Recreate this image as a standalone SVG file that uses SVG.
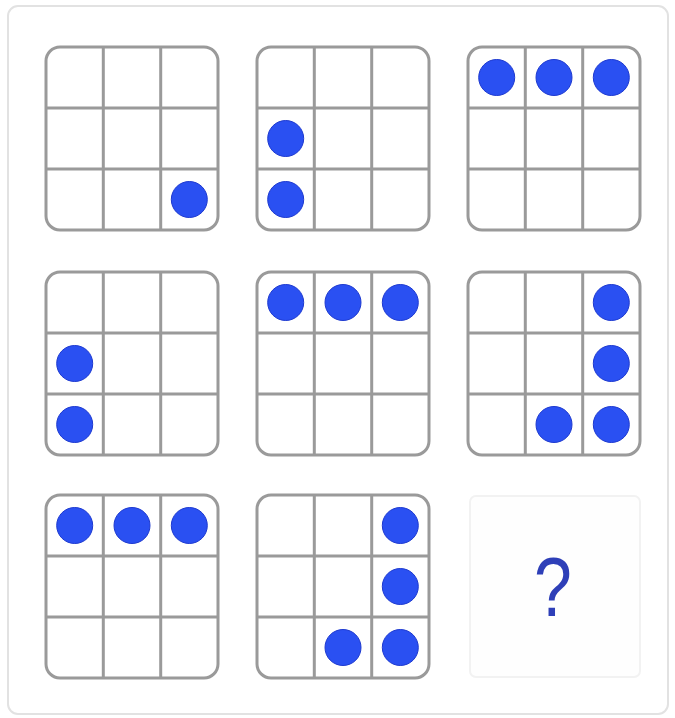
<svg xmlns="http://www.w3.org/2000/svg" width="675" height="718" viewBox="0 0 675 718">
<style>
.frame{fill:#fff;stroke:#e2e2e2;stroke-width:2}
.box{fill:#fff;stroke:#9a9a9a;stroke-width:3}
.ln{stroke:#9a9a9a;stroke-width:3}
.dot{fill:#2a50f2;stroke:#1e3ad0;stroke-width:1}
.q{fill:#fefefe;stroke:#f2f2f2;stroke-width:2}
.qt{font-family:"Liberation Sans",Arial,sans-serif;font-size:68px;fill:#2e3fb8;text-anchor:middle}
</style>
<defs>
<g id="grid">
<rect class="box" x="0" y="0" width="172" height="183" rx="14"/>
<line class="ln" x1="57.3" y1="0" x2="57.3" y2="183"/>
<line class="ln" x1="114.7" y1="0" x2="114.7" y2="183"/>
<line class="ln" x1="0" y1="61" x2="172" y2="61"/>
<line class="ln" x1="0" y1="122" x2="172" y2="122"/>
</g>
</defs>
<rect class="frame" x="8" y="6" width="660" height="708" rx="10"/>
<g id="cell1" transform="translate(46,47)"><use href="#grid"/><circle class="dot" cx="143.3" cy="152.5" r="18"/></g>
<g id="cell2" transform="translate(257,47)"><use href="#grid"/><circle class="dot" cx="28.7" cy="91.5" r="18"/><circle class="dot" cx="28.7" cy="152.5" r="18"/></g>
<g id="cell3" transform="translate(468,47)"><use href="#grid"/><circle class="dot" cx="28.7" cy="30.5" r="18"/><circle class="dot" cx="86" cy="30.5" r="18"/><circle class="dot" cx="143.3" cy="30.5" r="18"/></g>
<g id="cell4" transform="translate(46,272)"><use href="#grid"/><circle class="dot" cx="28.7" cy="91.5" r="18"/><circle class="dot" cx="28.7" cy="152.5" r="18"/></g>
<g id="cell5" transform="translate(257,272)"><use href="#grid"/><circle class="dot" cx="28.7" cy="30.5" r="18"/><circle class="dot" cx="86" cy="30.5" r="18"/><circle class="dot" cx="143.3" cy="30.5" r="18"/></g>
<g id="cell6" transform="translate(468,272)"><use href="#grid"/><circle class="dot" cx="143.3" cy="30.5" r="18"/><circle class="dot" cx="143.3" cy="91.5" r="18"/><circle class="dot" cx="86" cy="152.5" r="18"/><circle class="dot" cx="143.3" cy="152.5" r="18"/></g>
<g id="cell7" transform="translate(46,495)"><use href="#grid"/><circle class="dot" cx="28.7" cy="30.5" r="18"/><circle class="dot" cx="86" cy="30.5" r="18"/><circle class="dot" cx="143.3" cy="30.5" r="18"/></g>
<g id="cell8" transform="translate(257,495)"><use href="#grid"/><circle class="dot" cx="143.3" cy="30.5" r="18"/><circle class="dot" cx="143.3" cy="91.5" r="18"/><circle class="dot" cx="86" cy="152.5" r="18"/><circle class="dot" cx="143.3" cy="152.5" r="18"/></g>
<g id="cell9"><rect class="q" x="470" y="496" width="170" height="181" rx="6"/><text class="qt" transform="translate(553,616) scale(1,1.22)" x="0" y="0">?</text></g>
<g id="connectors"/>
</svg>
